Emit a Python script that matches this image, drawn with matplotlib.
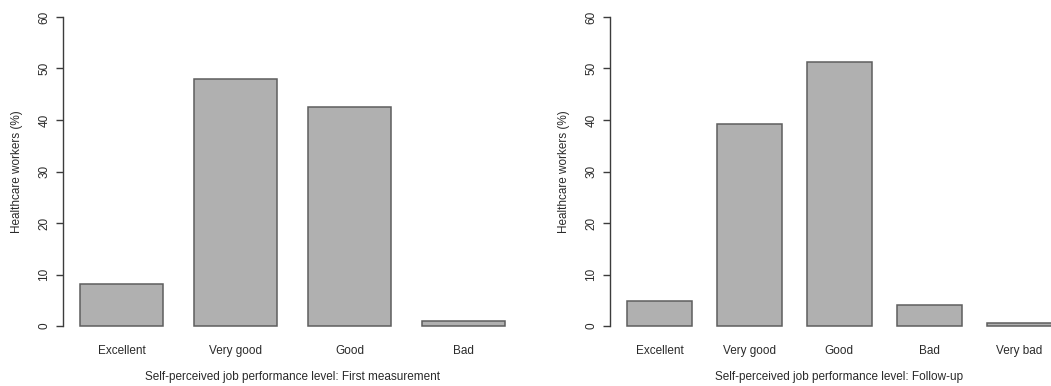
import matplotlib
matplotlib.use("Agg")
import matplotlib.pyplot as plt

plt.rcParams['font.family'] = ['Liberation Sans', 'DejaVu Sans']

cats_first = ["Excellent", "Very good", "Good", "Bad"]
vals_first = [8.2, 48.0, 42.5, 1.0]

cats_follow = ["Excellent", "Very good", "Good", "Bad", "Very bad"]
vals_follow = [4.9, 39.2, 51.3, 4.1, 0.5]

yticks = [0, 10, 20, 30, 40, 50, 60]
ylabel = "Healthcare workers (%)"
xlabel_first = "Self-perceived job performance level: First measurement"
xlabel_follow = "Self-perceived job performance level: Follow-up"

W, H = 1051, 386
fig = plt.figure(figsize=(W / 100, H / 100), dpi=100)

bar_fc = "#b0b0b0"
bar_ec = "#5e5e5e"
axis_c = "#3c3c3c"
text_c = "#2a2a2a"

top_px, bot_px = 4.6, 338.4


def make_ax(left_px, right_px, cats, vals, xlabel, xmin, xmax):
    ax = fig.add_axes([left_px / W, 1 - bot_px / H, (right_px - left_px) / W, (bot_px - top_px) / H])
    x = list(range(len(cats)))
    ax.bar(x, vals, width=0.72, color=bar_fc, edgecolor=bar_ec, linewidth=1.1)
    ax.set_xlim(xmin, xmax)
    ax.set_ylim(-2.4, 62.4)
    for s in ["top", "right", "bottom"]:
        ax.spines[s].set_visible(False)
    ax.spines["left"].set_bounds(0, 60)
    ax.spines["left"].set_color(axis_c)
    ax.spines["left"].set_linewidth(1.0)
    ax.set_yticks(yticks)
    ax.set_yticklabels([str(v) for v in yticks], rotation=90, va="center", fontsize=8.5, color=text_c)
    ax.tick_params(axis="y", length=5, width=1.0, color=axis_c, pad=4)
    ax.set_xticks(x)
    ax.set_xticklabels(cats, fontsize=8.5, color=text_c)
    ax.tick_params(axis="x", length=0, pad=5)
    ax.set_xlabel(xlabel, fontsize=8.5, color=text_c, labelpad=9.5)
    ax.set_ylabel(ylabel, fontsize=8.5, color=text_c, labelpad=11)
    ax.patch.set_alpha(0)
    return ax


make_ax(62.7, 522.3, cats_first, vals_first, xlabel_first, -0.516, 3.516)
make_ax(610.0, 1068.6, cats_follow, vals_follow, xlabel_follow, -0.55, 4.55)

fig.savefig("out.png", dpi=100)
